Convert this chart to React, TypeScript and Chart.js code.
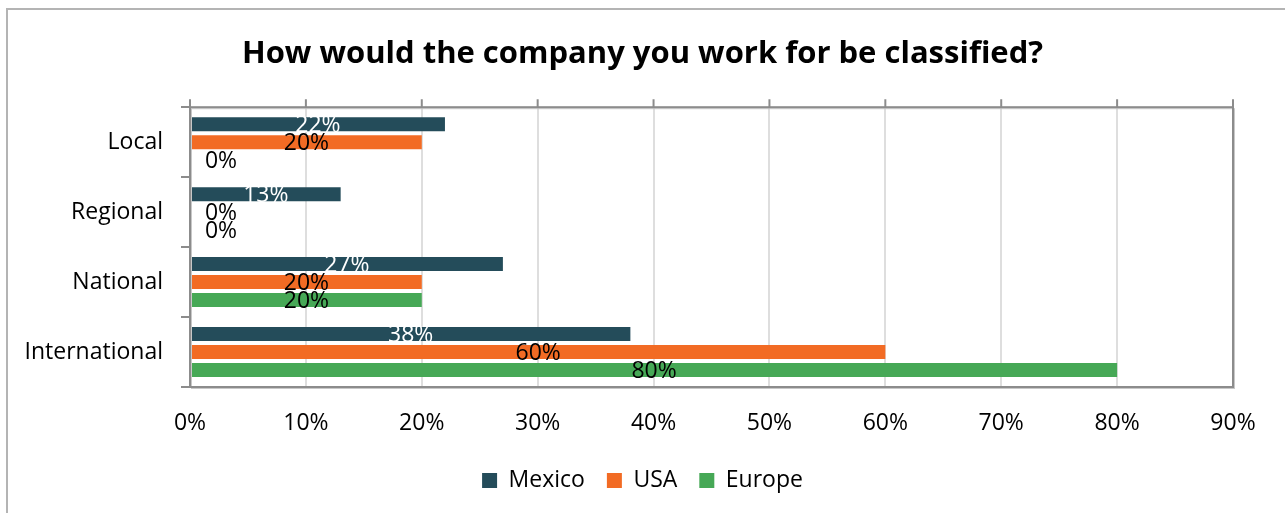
import { useEffect, useRef } from "react";
import { Chart, registerables } from "chart.js";

Chart.register(...registerables);

const chartTitle = "How would the company you work for be classified?";
const categories = ["Local", "Regional", "National", "International"];
const seriesNames = ["Mexico", "USA", "Europe"];
const mexico = [22, 13, 27, 38];
const usa = [20, 0, 20, 60];
const europe = [0, 0, 20, 80];
const xMin = 0;
const xMax = 90;
const xStep = 10;

const seriesColors = ["#244C5A", "#F26B24", "#46A856"];
const labelColors = ["#FFFFFF", "#000000", "#000000"];
const FONT = '"Open Sans", "Noto Sans", sans-serif';

const decorPlugin = {
  id: "decor",
  beforeDraw(chart: any) {
    const ctx = chart.ctx;
    ctx.save();
    ctx.fillStyle = "#ffffff";
    ctx.fillRect(0, 0, chart.width, chart.height);
    ctx.strokeStyle = "#b4b4b4";
    ctx.lineWidth = 2;
    ctx.beginPath();
    ctx.moveTo(7, chart.height);
    ctx.lineTo(7, 9);
    ctx.lineTo(chart.width, 9);
    ctx.stroke();
    ctx.restore();
  },
  afterDraw(chart: any) {
    const ctx = chart.ctx;
    const a = chart.chartArea;
    const xs = chart.scales.x;
    ctx.save();
    ctx.strokeStyle = "#c8c8c8";
    ctx.lineWidth = 1;
    ctx.strokeRect(a.left + 1.5, a.top + 1.5, a.right - a.left, a.bottom - a.top);
    ctx.strokeStyle = "#8c8c8c";
    ctx.lineWidth = 2;
    ctx.strokeRect(a.left, a.top, a.right - a.left, a.bottom - a.top);
    ctx.beginPath();
    xs.ticks.forEach((t: any) => {
      const px = xs.getPixelForValue(t.value);
      ctx.moveTo(px, a.top - 8);
      ctx.lineTo(px, a.top);
    });
    ctx.stroke();
    ctx.restore();
  },
};

const labelPlugin = {
  id: "barLabels",
  afterDatasetsDraw(chart: any) {
    const ctx = chart.ctx;
    ctx.save();
    ctx.font = `23px ${FONT}`;
    ctx.textAlign = "center";
    ctx.textBaseline = "middle";
    chart.data.datasets.forEach((ds: any, di: number) => {
      const meta = chart.getDatasetMeta(di);
      meta.data.forEach((bar: any, i: number) => {
        const v = ds.data[i];
        const { x, y, base } = bar.getProps(["x", "y", "base"], true);
        let cx = (x + base) / 2;
        if (v === 0) cx = base + 31;
        ctx.fillStyle = labelColors[di];
        ctx.fillText(`${v}%`, cx, y + 1);
      });
    });
    ctx.restore();
  },
};

export default function App() {
  const ref = useRef<HTMLCanvasElement | null>(null);

  useEffect(() => {
    if (!ref.current) return;
    const data = [mexico, usa, europe];
    const chart = new Chart(ref.current, {
      type: "bar",
      data: {
        labels: categories,
        datasets: seriesNames.map((name, i) => ({
          label: name,
          data: data[i],
          backgroundColor: seriesColors[i],
          borderWidth: 0,
          categoryPercentage: 0.771,
          barPercentage: 0.778,
        })),
      },
      options: {
        indexAxis: "y",
        responsive: false,
        animation: false,
        devicePixelRatio: 1,
        events: [],
        layout: { padding: { left: 0, right: 0, top: 0, bottom: 11 } },
        scales: {
          x: {
            min: xMin,
            max: xMax,
            afterFit: (s: any) => {
              s.height = 60;
            },
            ticks: {
              stepSize: xStep,
              padding: 23,
              color: "#000",
              font: { family: FONT, size: 23 },
              callback: (v: any) => `${v}%`,
            },
            grid: { color: "#dedede", lineWidth: 2, drawTicks: false },
            border: { display: false },
          },
          y: {
            afterFit: (s: any) => {
              s.width = 190;
            },
            ticks: {
              padding: 18,
              color: "#000",
              font: { family: FONT, size: 23 },
            },
            grid: {
              offset: true,
              drawOnChartArea: false,
              drawTicks: true,
              tickLength: 9,
              color: "#8c8c8c",
              lineWidth: 2,
            },
            border: { display: false },
          },
          yRight: {
            type: "category",
            position: "right",
            labels: categories,
            afterFit: (s: any) => {
              s.width = 52;
            },
            ticks: { display: false },
            grid: { display: false },
            border: { display: false },
          },
        },
        plugins: {
          tooltip: { enabled: false },
          title: {
            display: true,
            text: chartTitle,
            color: "#000",
            font: { family: FONT, size: 31, weight: "bold" },
            padding: { top: 36, bottom: 34 },
          },
          legend: {
            position: "bottom",
            labels: {
              boxWidth: 15,
              boxHeight: 15,
              padding: 22,
              color: "#000",
              font: { family: FONT, size: 23 },
            },
          },
        },
      },
      plugins: [decorPlugin, labelPlugin],
    } as any);
    return () => chart.destroy();
  }, []);

  return (
    <div style={{ position: "absolute", left: 0, top: 0, width: 1285, height: 513 }}>
      <canvas ref={ref} width={1285} height={513} style={{ display: "block" }} />
    </div>
  );
}
